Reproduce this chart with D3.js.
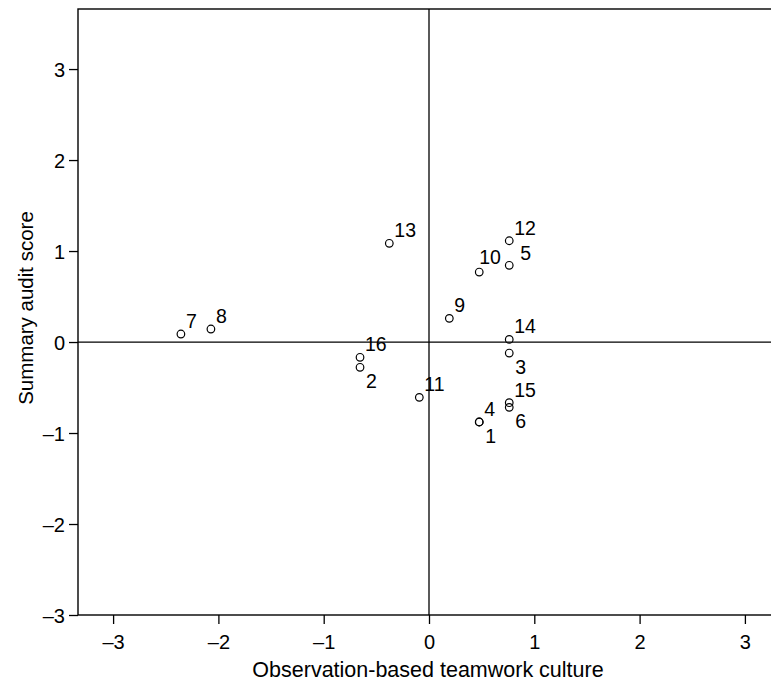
<!DOCTYPE html>
<html>
<head>
<meta charset="utf-8">
<script src="https://cdn.jsdelivr.net/npm/d3@7"></script>
<style>
  body { margin: 0; background: #fff; }
  svg { display: block; font-family: "Liberation Sans", Arial, Helvetica, sans-serif; }
</style>
</head>
<body>
<div id="chart"></div>
<script>
// data
var unitIds = ["1", "2", "3", "4", "5", "6", "7", "8", "9", "10", "11", "12", "13", "14", "15", "16"];
var teamworkCulture = [0.477, -0.655, 0.762, 0.477, 0.762, 0.762, -2.356, -2.071, 0.193, 0.477, -0.092, 0.762, -0.377, 0.762, 0.762, -0.655];
var auditScore = [-0.879, -0.278, -0.121, -0.879, 0.843, -0.718, 0.088, 0.143, 0.260, 0.769, -0.608, 1.113, 1.085, 0.029, -0.667, -0.168];
var xTicks = [-3, -2, -1, 0, 1, 2, 3];
var yTicks = [-3, -2, -1, 0, 1, 2, 3];

// where each marker label sits relative to its point
var labelSide = { "1": "lr", "2": "lr", "3": "lr", "6": "lr", "5": "r", "10": "u" };
var sideOffset = { ur: [5, -6], lr: [6, 21], r: [11, -5], u: [0, -8] };

var width = 771, height = 686;
var fmt = function(d){ return d < 0 ? "\u2013" + Math.abs(d) : String(d); };

var svg = d3.select("#chart").append("svg")
    .attr("width", width)
    .attr("height", height);

var x = d3.scaleLinear().domain([-10/3, 10/3]).range([78, 780]);
var y = d3.scaleLinear().domain([-3, 3.66]).range([615, 9]);

var points = unitIds.map(function(id, i){
    return { id: id, x: teamworkCulture[i], y: auditScore[i] };
});

// plot frame
svg.append("rect")
    .attr("x", x(-10/3))
    .attr("y", y(3.66))
    .attr("width", x(10/3) - x(-10/3))
    .attr("height", y(-3) - y(3.66))
    .attr("fill", "none")
    .attr("stroke", "#000")
    .attr("stroke-width", 1.4);

// axes
var xAxis = svg.append("g")
    .attr("transform", "translate(0," + y(-3) + ")")
    .call(d3.axisBottom(x).tickValues(xTicks).tickFormat(fmt).tickSize(9).tickPadding(11));
var yAxis = svg.append("g")
    .attr("transform", "translate(" + x(-10/3) + ",0)")
    .call(d3.axisLeft(y).tickValues(yTicks).tickFormat(fmt).tickSize(9).tickPadding(4));

[xAxis, yAxis].forEach(function(a){
    a.select(".domain").remove();
    a.selectAll("line").attr("stroke", "#000").attr("stroke-width", 1.3);
    a.selectAll("text")
        .attr("fill", "#000")
        .attr("font-size", "20px")
        .attr("font-family", "'Liberation Sans', Arial, sans-serif");
});
yAxis.selectAll("text").attr("dy", "0.36em");

// reference lines at zero
svg.append("line")
    .attr("x1", x(0)).attr("x2", x(0))
    .attr("y1", y(3.66)).attr("y2", y(-3))
    .attr("stroke", "#000").attr("stroke-width", 1.3);
svg.append("line")
    .attr("x1", x(-10/3)).attr("x2", x(10/3))
    .attr("y1", y(0)).attr("y2", y(0))
    .attr("stroke", "#000").attr("stroke-width", 1.3);

// markers
svg.append("g").selectAll("circle")
    .data(points)
    .enter().append("circle")
    .attr("cx", function(d){ return x(d.x); })
    .attr("cy", function(d){ return y(d.y); })
    .attr("r", 3.8)
    .attr("fill", "none")
    .attr("stroke", "#000")
    .attr("stroke-width", 1.2);

// marker labels
svg.append("g").selectAll("text")
    .data(points)
    .enter().append("text")
    .attr("x", function(d){ return x(d.x) + sideOffset[labelSide[d.id] || "ur"][0]; })
    .attr("y", function(d){ return y(d.y) + sideOffset[labelSide[d.id] || "ur"][1]; })
    .attr("font-size", "19.5px")
    .attr("fill", "#000")
    .text(function(d){ return d.id; });

// axis titles
svg.append("text")
    .attr("x", 428)
    .attr("y", 677)
    .attr("text-anchor", "middle")
    .attr("font-size", "21.5px")
    .text("Observation-based teamwork culture");
svg.append("text")
    .attr("transform", "rotate(-90)")
    .attr("x", -308)
    .attr("y", 33)
    .attr("text-anchor", "middle")
    .attr("font-size", "20.5px")
    .text("Summary audit score");
</script>
</body>
</html>
